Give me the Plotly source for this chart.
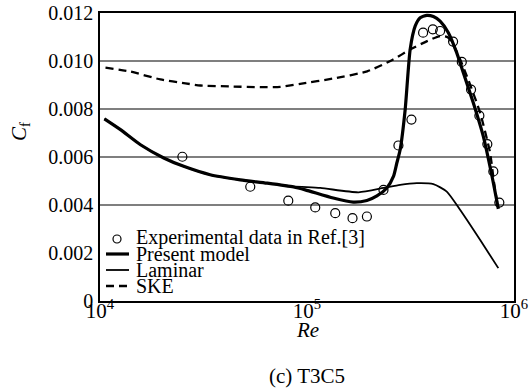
import plotly.graph_objects as go

# Experimental data in Ref.[3]
exp_re = [25000, 53200, 81200, 109600, 136900, 165900, 194700, 234100, 276500,
          319500, 363800, 405300, 439600, 507800, 559400, 620200, 680300,
          743300, 794600, 849400]
exp_cf = [0.00601, 0.00476, 0.00418, 0.00390, 0.00366, 0.00345, 0.00352,
          0.00463, 0.00648, 0.00756, 0.01118, 0.01132, 0.01125, 0.01081,
          0.00996, 0.00881, 0.00772, 0.00654, 0.00540, 0.00410]

# Present model
pm_re = [10500, 12560, 15690, 20320, 25370, 34060, 47630, 64100, 86130, 98060,
         133900, 167200, 194700, 217600, 243100, 261600, 271600, 281800,
         298000, 315000, 333000, 352000, 379200, 407900, 439600, 481900,
         529000, 569200, 636300, 710900, 780500, 840000]
pm_cf = [0.00759, 0.00714, 0.00651, 0.00596, 0.00561, 0.00526, 0.00505,
         0.00491, 0.00475, 0.00463, 0.00429, 0.00412, 0.00419, 0.00438,
         0.00471, 0.00519, 0.00575, 0.00630, 0.00797, 0.01048, 0.01145,
         0.01180, 0.01190, 0.01185, 0.01166, 0.01118, 0.01034, 0.00951,
         0.00825, 0.00686, 0.00526, 0.00384]

# Laminar
lam_re = [10500, 12560, 15690, 20320, 25370, 34060, 47630, 64100, 86130,
          115900, 177400, 234100, 281800, 339300, 407900, 473400, 548800,
          685500, 840000]
lam_cf = [0.00759, 0.00714, 0.00651, 0.00596, 0.00561, 0.00526, 0.00505,
          0.00491, 0.00478, 0.00471, 0.00453, 0.00471, 0.00484, 0.00491,
          0.00487, 0.00456, 0.00380, 0.00255, 0.00137]

# SKE
ske_re = [10630, 14040, 19590, 25850, 30540, 42630, 59480, 74300, 92770,
          133900, 195300, 260800, 315000, 380500, 439600, 480400, 530800,
          593200, 685500, 766000, 800900, 837000]
ske_cf = [0.00972, 0.00956, 0.00923, 0.00907, 0.00898, 0.00894, 0.00891,
          0.00892, 0.00905, 0.00927, 0.00957, 0.01006, 0.01048, 0.01083,
          0.01104, 0.01098, 0.01036, 0.00935, 0.00785, 0.00618, 0.00493,
          0.00388]

legend_names = ["Experimental data in Ref.[3]", "Present model", "Laminar", "SKE"]
x_tickvals = [1e4, 1e5, 1e6]
x_ticktext = ["10<sup>4</sup>", "10<sup>5</sup>", "10<sup>6</sup>"]
y_tickvals = [0, 0.002, 0.004, 0.006, 0.008, 0.010, 0.012]
y_ticktext = ["0", "0.002", "0.004", "0.006", "0.008", "0.010", "0.012"]

FONT = "Liberation Serif"
W, H = 529, 390
L, R, T, B = 100, 15, 13, 89
PW, PH = W - L - R, H - T - B


def px(xp):
    return (xp - L) / PW


def py(yp):
    return (H - B - yp) / PH


fig = go.Figure()
fig.add_trace(go.Scatter(x=ske_re, y=ske_cf, mode="lines", showlegend=False,
                         line=dict(color="black", width=2.3, dash="8px,5px",
                                   shape="spline", smoothing=0.6)))
fig.add_trace(go.Scatter(x=lam_re, y=lam_cf, mode="lines", showlegend=False,
                         line=dict(color="black", width=1.8,
                                   shape="spline", smoothing=0.6)))
fig.add_trace(go.Scatter(x=pm_re, y=pm_cf, mode="lines", showlegend=False,
                         line=dict(color="black", width=3.2,
                                   shape="spline", smoothing=0.6)))
fig.add_trace(go.Scatter(x=exp_re, y=exp_cf, mode="markers", showlegend=False,
                         marker=dict(symbol="circle-open", size=9,
                                     color="black", line=dict(width=1.2))))

shapes = []
# horizontal grid lines
for v in [0.004, 0.006, 0.008, 0.010]:
    shapes.append(dict(type="line", xref="paper", yref="y", x0=0, x1=1,
                       y0=v, y1=v, layer="below",
                       line=dict(color="black", width=1.2)))
# vertical grid line at 10^5 (log axis coordinates)
shapes.append(dict(type="line", xref="x", yref="y", x0=5, x1=5,
                   y0=0.004, y1=0.012, layer="below",
                   line=dict(color="black", width=1.2)))

# legend symbols
sym_x0, sym_x1 = 106, 129
rows = [237, 254, 270, 286]
shapes.append(dict(type="circle", xref="paper", yref="paper",
                   xsizemode="pixel", ysizemode="pixel",
                   xanchor=px(117), yanchor=py(rows[0] + 2),
                   x0=-4, x1=4, y0=-4, y1=4,
                   line=dict(color="black", width=1.2)))
shapes.append(dict(type="line", xref="paper", yref="paper",
                   x0=px(sym_x0), x1=px(sym_x1), y0=py(rows[1]), y1=py(rows[1]),
                   line=dict(color="black", width=3.2)))
shapes.append(dict(type="line", xref="paper", yref="paper",
                   x0=px(sym_x0), x1=px(sym_x1), y0=py(rows[2]), y1=py(rows[2]),
                   line=dict(color="black", width=1.8)))
shapes.append(dict(type="line", xref="paper", yref="paper",
                   x0=px(sym_x0), x1=px(sym_x1), y0=py(rows[3]), y1=py(rows[3]),
                   line=dict(color="black", width=2.3, dash="8px,5px")))

annotations = []
for name, r in zip(legend_names, rows):
    annotations.append(dict(text=name, xref="paper", yref="paper",
                            x=px(134), y=py(r), xanchor="left", yanchor="middle",
                            showarrow=False, font=dict(family=FONT, size=20, color="black")))

# axis titles and caption
annotations.append(dict(text="<i>Re</i>", xref="paper", yref="paper",
                        x=0.5, y=py(330), xanchor="center", yanchor="middle",
                        showarrow=False, font=dict(family=FONT, size=21, color="black")))
annotations.append(dict(text="(c) T3C5", xref="paper", yref="paper",
                        x=0.5, y=py(376), xanchor="center", yanchor="middle",
                        showarrow=False, font=dict(family=FONT, size=21, color="black")))
annotations.append(dict(text="<i>C</i><sub>f</sub>", xref="paper", yref="paper",
                        x=px(20), y=py(132), xanchor="center", yanchor="middle",
                        textangle=-90, showarrow=False,
                        font=dict(family=FONT, size=21, color="black")))

fig.update_layout(
    width=W, height=H,
    margin=dict(l=L, r=R, t=T, b=B, pad=0, autoexpand=False),
    paper_bgcolor="white", plot_bgcolor="white",
    showlegend=False,
    shapes=shapes, annotations=annotations,
    xaxis=dict(type="log", range=[4, 6], tickvals=x_tickvals, ticktext=x_ticktext,
               showgrid=False, zeroline=False, showline=True, mirror=True,
               linecolor="black", linewidth=1.5, ticks="", automargin=False,
               ticklabelstandoff=-10,
               tickfont=dict(family=FONT, size=21, color="black")),
    yaxis=dict(range=[0, 0.012], tickvals=y_tickvals, ticktext=y_ticktext,
               showgrid=False, zeroline=False, showline=True, mirror=True,
               linecolor="black", linewidth=1.5, ticks="", automargin=False,
               ticklabelstandoff=1,
               tickfont=dict(family=FONT, size=20, color="black")),
)

fig.write_html("out.html")
